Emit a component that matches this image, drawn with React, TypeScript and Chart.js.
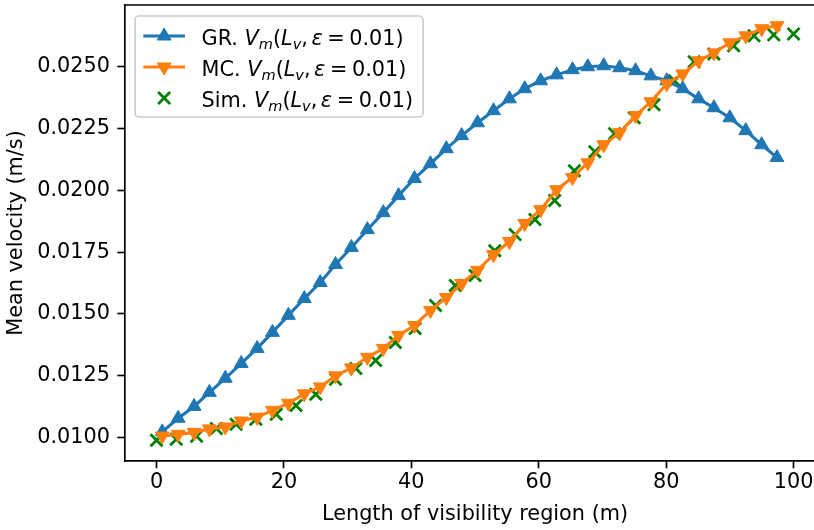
import React, { useEffect, useRef } from 'react';
import { Chart, registerables } from 'chart.js';

Chart.register(...registerables);

// ---- data ----
const modelLv = [0.9, 3.4, 5.9, 8.3, 10.8, 13.3, 15.8, 18.2, 20.7, 23.2, 25.7, 28.1, 30.6, 33.1, 35.6, 38.0, 40.5, 43.0, 45.5, 47.9, 50.4, 52.9, 55.4, 57.8, 60.3, 62.8, 65.3, 67.7, 70.2, 72.7, 75.2, 77.6, 80.1, 82.6, 85.1, 87.5, 90.0, 92.5, 95.0, 97.4];
const grVm = [0.01022, 0.01077, 0.01125, 0.01182, 0.01239, 0.01299, 0.0136, 0.01425, 0.01494, 0.01562, 0.01627, 0.017, 0.01769, 0.01841, 0.0191, 0.01979, 0.02048, 0.02108, 0.02169, 0.02222, 0.02274, 0.02323, 0.02371, 0.02412, 0.02444, 0.02468, 0.02489, 0.02501, 0.02505, 0.02497, 0.02485, 0.02464, 0.02444, 0.02412, 0.02371, 0.02335, 0.02294, 0.02242, 0.02185, 0.02133];
const mcVm = [0.01005, 0.01012, 0.0102, 0.01034, 0.01042, 0.01066, 0.01081, 0.01109, 0.01138, 0.01176, 0.01204, 0.01249, 0.01281, 0.01324, 0.0136, 0.01413, 0.01453, 0.01514, 0.01566, 0.01623, 0.01676, 0.0174, 0.01793, 0.01866, 0.01922, 0.02003, 0.02052, 0.02112, 0.02185, 0.02234, 0.02303, 0.02359, 0.02432, 0.02472, 0.02525, 0.02557, 0.02598, 0.02626, 0.02655, 0.02667];
const simLv = [0, 3.1, 6.3, 9.4, 12.5, 15.6, 18.8, 21.9, 25, 28.1, 31.3, 34.4, 37.5, 40.6, 43.8, 46.9, 50, 53.1, 56.3, 59.4, 62.5, 65.6, 68.8, 71.9, 75, 78.1, 81.3, 84.4, 87.5, 90.6, 93.8, 96.9, 100];
const simVm = [0.00988, 0.00992, 0.01004, 0.01036, 0.01053, 0.01073, 0.01093, 0.01129, 0.01174, 0.01235, 0.01279, 0.01311, 0.01384, 0.01441, 0.01534, 0.01615, 0.01655, 0.01756, 0.01821, 0.01882, 0.01959, 0.0208, 0.02157, 0.0223, 0.02294, 0.02347, 0.02444, 0.02521, 0.02553, 0.02586, 0.02626, 0.0263, 0.02634];
const xTicks = [0, 20, 40, 60, 80, 100];
const yTicks = [0.01, 0.0125, 0.015, 0.0175, 0.02, 0.0225, 0.025];
const seriesNames = ['GR.', 'MC.', 'Sim.'];
const seriesColors = ['#1f77b4', '#ff7f0e', '#008000'];

const FONT = "'DejaVu Sans', sans-serif";
const FS = 20.8;
const CW = 840;
const CH = 530;
const AREA = { left: 124.65, top: 5, right: 825.4, bottom: 461 };

type Seg = { t?: string; it?: boolean; sub?: boolean; gap?: number };
const mathPart: Seg[] = [
  { t: 'V', it: true }, { t: 'm', it: true, sub: true }, { t: '(' },
  { t: 'L', it: true }, { t: 'v', it: true, sub: true }, { t: ',' }, { gap: 0.17 },
  { t: 'ε', it: true }, { gap: 0.22 }, { t: '=' }, { gap: 0.22 }, { t: '0.01)' },
];

function drawRich(ctx: CanvasRenderingContext2D, segs: Seg[], x: number, baseline: number) {
  let cx = x;
  for (const s of segs) {
    if (s.gap) { cx += s.gap * FS; continue; }
    const fs = s.sub ? FS * 0.7 : FS;
    ctx.font = `${s.it ? 'italic ' : ''}${fs}px ${FONT}`;
    ctx.fillText(s.t as string, cx, baseline + (s.sub ? FS * 0.22 : 0));
    cx += ctx.measureText(s.t as string).width;
  }
}

function triangle(ctx: CanvasRenderingContext2D, x: number, y: number, r: number, rotDeg: number) {
  let rad = (rotDeg * Math.PI) / 180;
  ctx.beginPath();
  for (let i = 0; i < 3; i++) {
    const px = x + Math.sin(rad) * r;
    const py = y - Math.cos(rad) * r;
    if (i === 0) ctx.moveTo(px, py); else ctx.lineTo(px, py);
    rad += (2 * Math.PI) / 3;
  }
  ctx.closePath();
}

const framePlugin = {
  id: 'mplFrame',
  afterDatasetsDraw(chart: any) {
    const { ctx, chartArea } = chart;
    ctx.save();
    ctx.strokeStyle = '#000';
    ctx.lineWidth = 1.67;
    ctx.beginPath();
    ctx.moveTo(chartArea.left, chartArea.top);
    ctx.lineTo(chartArea.right, chartArea.top);
    ctx.lineTo(chartArea.right, chartArea.bottom);
    ctx.stroke();
    ctx.restore();
  },
};

const legendPlugin = {
  id: 'mplLegend',
  afterDraw(chart: any) {
    const ctx: CanvasRenderingContext2D = chart.ctx;
    const { left, top } = chart.chartArea;
    const bx = left + 10.4;
    const by = top + 11;
    const bw = 288;
    const bh = 101;
    ctx.save();
    ctx.beginPath();
    const r = 4;
    ctx.moveTo(bx + r, by);
    ctx.lineTo(bx + bw - r, by);
    ctx.arcTo(bx + bw, by, bx + bw, by + r, r);
    ctx.lineTo(bx + bw, by + bh - r);
    ctx.arcTo(bx + bw, by + bh, bx + bw - r, by + bh, r);
    ctx.lineTo(bx + r, by + bh);
    ctx.arcTo(bx, by + bh, bx, by + bh - r, r);
    ctx.lineTo(bx, by + r);
    ctx.arcTo(bx, by, bx + r, by, r);
    ctx.closePath();
    ctx.fillStyle = 'rgba(255,255,255,0.8)';
    ctx.fill();
    ctx.strokeStyle = '#cccccc';
    ctx.lineWidth = 1.6;
    ctx.stroke();

    const hx0 = bx + 8.3;
    const hx1 = hx0 + 41.6;
    const hxc = (hx0 + hx1) / 2;
    const textX = hx1 + 16.6;
    seriesNames.forEach((name, i) => {
      const cy = by + 20 + i * 31;
      const color = seriesColors[i];
      if (i < 2) {
        ctx.strokeStyle = color;
        ctx.lineWidth = 3.1;
        ctx.beginPath();
        ctx.moveTo(hx0, cy);
        ctx.lineTo(hx1, cy);
        ctx.stroke();
        triangle(ctx, hxc, cy, 8, i === 0 ? 0 : 180);
        ctx.fillStyle = color;
        ctx.fill();
        ctx.lineWidth = 1;
        ctx.stroke();
      } else {
        const d = 8.5 * Math.SQRT1_2;
        ctx.strokeStyle = color;
        ctx.lineWidth = 2.8;
        ctx.beginPath();
        ctx.moveTo(hxc - d, cy - d);
        ctx.lineTo(hxc + d, cy + d);
        ctx.moveTo(hxc + d, cy - d);
        ctx.lineTo(hxc - d, cy + d);
        ctx.stroke();
      }
      ctx.fillStyle = '#000';
      ctx.textAlign = 'left';
      ctx.textBaseline = 'alphabetic';
      drawRich(ctx, [{ t: name + ' ' }, ...mathPart], textX, cy + 8.5);
    });
    ctx.restore();
  },
};

export default function App() {
  const ref = useRef<HTMLCanvasElement | null>(null);

  useEffect(() => {
    if (!ref.current) return;
    const font = { family: FONT, size: FS };
    const chart = new Chart(ref.current, {
      type: 'line',
      data: {
        datasets: [
          {
            label: 'GR. Vm(Lv, ε = 0.01)',
            data: modelLv.map((x, i) => ({ x, y: grVm[i] })),
            borderColor: seriesColors[0],
            backgroundColor: seriesColors[0],
            borderWidth: 3.1,
            pointStyle: 'triangle',
            pointRadius: 8,
            pointBorderWidth: 1,
            pointBackgroundColor: seriesColors[0],
            pointBorderColor: seriesColors[0],
            tension: 0,
            order: 1,
          },
          {
            label: 'MC. Vm(Lv, ε = 0.01)',
            data: modelLv.map((x, i) => ({ x, y: mcVm[i] })),
            borderColor: seriesColors[1],
            backgroundColor: seriesColors[1],
            borderWidth: 3.1,
            pointStyle: 'triangle',
            pointRotation: 180,
            pointRadius: 8,
            pointBorderWidth: 1,
            pointBackgroundColor: seriesColors[1],
            pointBorderColor: seriesColors[1],
            tension: 0,
            order: 0,
          },
          {
            label: 'Sim. Vm(Lv, ε = 0.01)',
            data: simLv.map((x, i) => ({ x, y: simVm[i] })),
            showLine: false,
            borderColor: seriesColors[2],
            backgroundColor: seriesColors[2],
            pointStyle: 'crossRot',
            pointRadius: 8.5,
            pointBorderWidth: 2.8,
            pointBorderColor: seriesColors[2],
            order: 2,
          },
        ],
      },
      options: {
        responsive: false,
        animation: false,
        devicePixelRatio: 1,
        layout: { autoPadding: false, padding: { left: 0, top: AREA.top, right: CW - AREA.right, bottom: 0 } },
        plugins: { legend: { display: false }, tooltip: { enabled: false } },
        scales: {
          x: {
            type: 'linear',
            min: -5,
            max: 105,
            afterFit: (s: any) => { s.height = CH - AREA.bottom; s.paddingLeft = 0; s.paddingRight = 0; },
            afterBuildTicks: (s: any) => { s.ticks = xTicks.map((v) => ({ value: v })); },
            grid: { drawOnChartArea: false, drawTicks: true, tickLength: 7.3, tickWidth: 1.67, tickColor: '#000' },
            border: { display: true, color: '#000', width: 1.67 },
            ticks: { padding: 2, color: '#000', font, maxRotation: 0, autoSkip: false, callback: (v: any) => String(v) },
            title: { display: true, text: 'Length of visibility region (m)', color: '#000', font, padding: { top: 0, bottom: 3 } },
          },
          y: {
            type: 'linear',
            min: 0.00904,
            max: 0.02751,
            afterFit: (s: any) => { s.width = AREA.left; s.paddingTop = 0; s.paddingBottom = 0; },
            afterBuildTicks: (s: any) => { s.ticks = yTicks.map((v) => ({ value: v })); },
            grid: { drawOnChartArea: false, drawTicks: true, tickLength: 7.3, tickWidth: 1.67, tickColor: '#000' },
            border: { display: true, color: '#000', width: 1.67 },
            ticks: { padding: 7.3, color: '#000', font, autoSkip: false, callback: (v: any) => Number(v).toFixed(4) },
            title: { display: true, text: 'Mean velocity (m/s)', color: '#000', font, padding: { top: 4.5, bottom: 0 } },
          },
        },
      },
      plugins: [framePlugin, legendPlugin],
    } as any);
    return () => chart.destroy();
  }, []);

  return (
    <div style={{ position: 'fixed', left: 0, top: 0, width: 814, height: 530, overflow: 'hidden', background: '#fff' }}>
      <canvas ref={ref} width={CW} height={CH} style={{ display: 'block', width: CW, height: CH }} />
    </div>
  );
}
